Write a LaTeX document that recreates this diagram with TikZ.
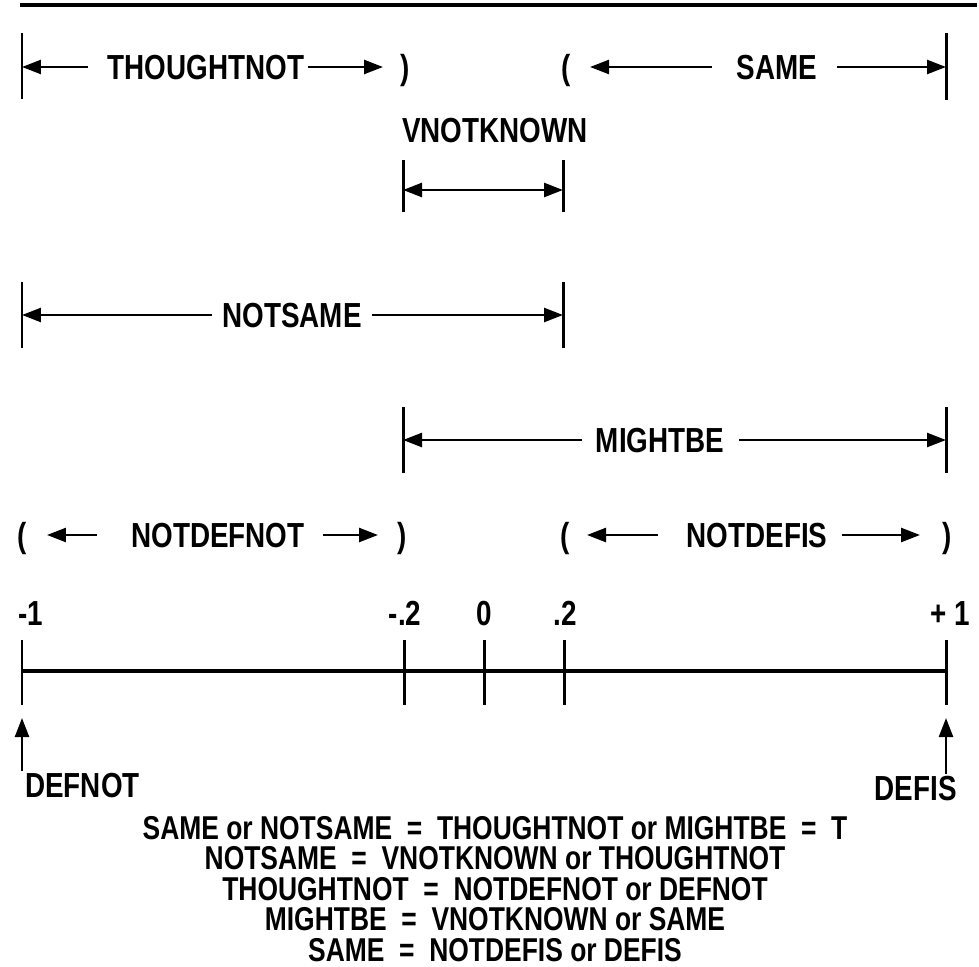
\documentclass[tikz,border=0pt]{standalone}
\usepackage{fontspec}
\setmainfont[FakeStretch=0.8]{Liberation Sans}
\usetikzlibrary{arrows.meta}
\tikzset{
  every picture/.style={line width=1.5pt},
  lbl/.style={font=\fontsize{19.8}{22}\selectfont\bfseries, inner sep=0pt, text height=14.2pt, text depth=0pt},
  rule/.style={font=\fontsize{18.8}{17.4}\selectfont\bfseries, align=center, inner sep=0pt},
  dim/.style={-{Triangle[length=0.38cm, width=0.28cm]}, line width=1.4pt},
  dimboth/.style={{Triangle[length=0.38cm, width=0.28cm]}-{Triangle[length=0.38cm, width=0.28cm]}, line width=1.4pt},
  endbar/.style={line width=1.7pt},
}

\begin{document}
\begin{tikzpicture}[x=0.02cm, y=-0.02cm]
  \useasboundingbox (0,0) rectangle (979,966);
  \coordinate (topl) at (20,5);
  \coordinate (topr) at (977,5);
  \draw[line width=1.8pt] (topl) -- (topr);

  % THOUGHTNOT and SAME
  \coordinate (b1t) at (22,33); \coordinate (b1b) at (22,99); \coordinate (b1m) at (22,67);
  \coordinate (b2t) at (946,33); \coordinate (b2b) at (946,100); \coordinate (b2m) at (946,67);
  \draw[endbar] (b1t) -- (b1b);
  \draw[endbar] (b2t) -- (b2b);
  \node[lbl] (thoughtnot) at (206,67) {THOUGHTNOT};
  \node[lbl] (rp1) at (405,67) {)};
  \coordinate (thoughtnot-l) at (88,67);
  \coordinate (thoughtnot-r) at (308,67);
  \coordinate (rp1-h) at (383,67);
  \draw[dim] (thoughtnot-l) -- (b1m);
  \draw[dim] (thoughtnot-r) -- (rp1-h);
  \node[lbl] (lp1) at (566,67) {(};
  \node[lbl] (same) at (777,67) {SAME};
  \coordinate (lp1-h) at (590,67);
  \coordinate (same-l) at (712,67);
  \coordinate (same-r) at (837,67);
  \draw[dim] (same-l) -- (lp1-h);
  \draw[dim] (same-r) -- (b2m);

  % VNOTKNOWN
  \node[lbl] (vnotknown) at (495,130) {VNOTKNOWN};
  \coordinate (b3t) at (403,160); \coordinate (b3b) at (403,212); \coordinate (b3m) at (403,190);
  \coordinate (b4t) at (563,160); \coordinate (b4b) at (563,212); \coordinate (b4m) at (563,190);
  \draw[endbar] (b3t) -- (b3b);
  \draw[endbar] (b4t) -- (b4b);
  \draw[dimboth] (b3m) -- (b4m);

  % NOTSAME
  \coordinate (b5t) at (22,282); \coordinate (b5b) at (22,348); \coordinate (b5m) at (22,315);
  \coordinate (b6t) at (563,282); \coordinate (b6b) at (563,348); \coordinate (b6m) at (563,315);
  \draw[endbar] (b5t) -- (b5b);
  \draw[endbar] (b6t) -- (b6b);
  \node[lbl] (notsame) at (292,315) {NOTSAME};
  \coordinate (notsame-l) at (212,315);
  \coordinate (notsame-r) at (372,315);
  \draw[dim] (notsame-l) -- (b5m);
  \draw[dim] (notsame-r) -- (b6m);

  % MIGHTBE
  \coordinate (b7t) at (403,407); \coordinate (b7b) at (403,473); \coordinate (b7m) at (403,440);
  \coordinate (b8t) at (946,407); \coordinate (b8b) at (946,473); \coordinate (b8m) at (946,440);
  \draw[endbar] (b7t) -- (b7b);
  \draw[endbar] (b8t) -- (b8b);
  \node[lbl] (mightbe) at (660,440) {MIGHTBE};
  \coordinate (mightbe-l) at (582,440);
  \coordinate (mightbe-r) at (739,440);
  \draw[dim] (mightbe-l) -- (b7m);
  \draw[dim] (mightbe-r) -- (b8m);

  % NOTDEFNOT and NOTDEFIS
  \node[lbl] (lp2) at (22,535) {(};
  \node[lbl] (notdefnot) at (218,535) {NOTDEFNOT};
  \node[lbl] (rp2) at (402,535) {)};
  \coordinate (lp2-h) at (47,535);
  \coordinate (notdefnot-l) at (97,535);
  \coordinate (notdefnot-r) at (323,535);
  \coordinate (rp2-h) at (378,535);
  \draw[dim] (notdefnot-l) -- (lp2-h);
  \draw[dim] (notdefnot-r) -- (rp2-h);
  \node[lbl] (lp3) at (565,535) {(};
  \node[lbl] (notdefis) at (757,535) {NOTDEFIS};
  \node[lbl] (rp3) at (947,535) {)};
  \coordinate (lp3-h) at (587,535);
  \coordinate (notdefis-l) at (658,535);
  \coordinate (notdefis-r) at (842,535);
  \coordinate (rp3-h) at (920,535);
  \draw[dim] (notdefis-l) -- (lp3-h);
  \draw[dim] (notdefis-r) -- (rp3-h);

  % number line
  \node[lbl, anchor=west] (vm1) at (17,613) {-1};
  \node[lbl] (vm02) at (405,613) {-.2};
  \node[lbl] (v0) at (484,613) {0};
  \node[lbl] (v02) at (565,613) {.2};
  \node[lbl, anchor=east] (vp1) at (971,613) {+ 1};
  \coordinate (axl) at (22,671);
  \coordinate (axr) at (946,671);
  \draw[line width=2pt] (axl) -- (axr);
  \coordinate (k1t) at (22,640); \coordinate (k1b) at (22,705);
  \coordinate (k2t) at (404,640); \coordinate (k2b) at (404,705);
  \coordinate (k3t) at (484,640); \coordinate (k3b) at (484,705);
  \coordinate (k4t) at (564,640); \coordinate (k4b) at (564,705);
  \coordinate (k5t) at (946,640); \coordinate (k5b) at (946,705);
  \draw[endbar] (k1t) -- (k1b);
  \draw[endbar] (k2t) -- (k2b);
  \draw[endbar] (k3t) -- (k3b);
  \draw[endbar] (k4t) -- (k4b);
  \draw[endbar] (k5t) -- (k5b);

  % ends
  \node[lbl, anchor=west] (defnot) at (24,785) {DEFNOT};
  \node[lbl, anchor=east] (defis) at (958,788) {DEFIS};
  \coordinate (defnot-h) at (22,718);
  \coordinate (defis-h) at (946,718);
  \draw[dim] (defnot.north west -| defnot-h) -- (defnot-h);
  \draw[dim] (defis.north east -| defis-h) -- (defis-h);

  \node[rule] (rules) at (495,889) {SAME or NOTSAME \ = \ THOUGHTNOT or MIGHTBE \ = \ T\\
    NOTSAME \ = \ VNOTKNOWN or THOUGHTNOT\\
    THOUGHTNOT \ = \ NOTDEFNOT or DEFNOT\\
    MIGHTBE \ = \ VNOTKNOWN or SAME\\
    SAME \ = \ NOTDEFIS or DEFIS};
\end{tikzpicture}
\end{document}
